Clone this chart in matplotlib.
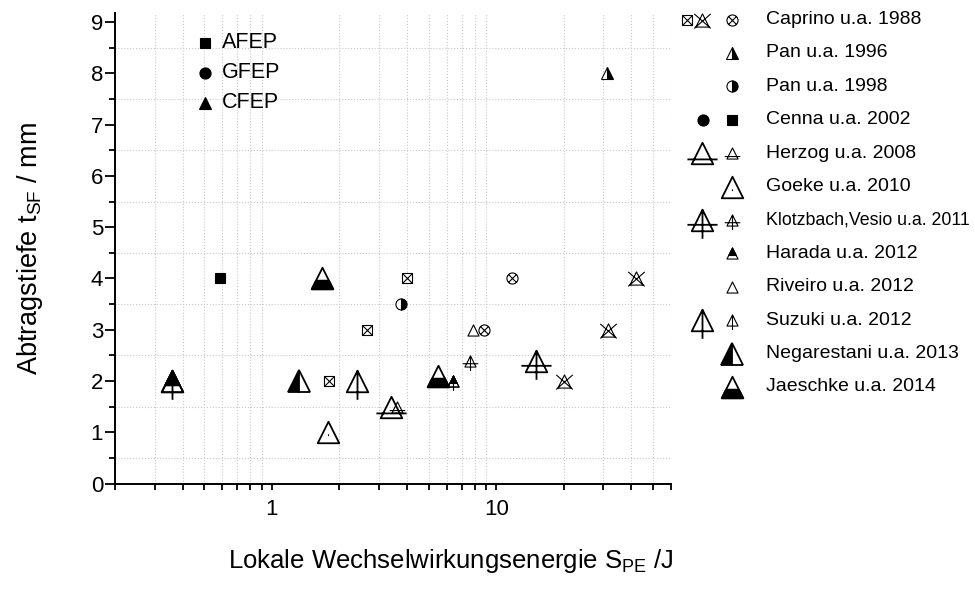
import numpy as np
import matplotlib.pyplot as plt
from matplotlib.path import Path
from matplotlib.ticker import FixedLocator, NullFormatter, FuncFormatter, LogLocator, MultipleLocator

plt.rcParams['font.family'] = ['Liberation Sans', 'DejaVu Sans']
plt.rcParams['mathtext.fontset'] = 'custom'
plt.rcParams['mathtext.rm'] = 'Liberation Sans'

# values: x = S_PE in J, y = t_SF in mm
caprino_box_x, caprino_box_y = [1.8, 2.65, 4.0], [2, 3, 4]
caprino_trix_x, caprino_trix_y = [20, 31.5, 42], [2, 3, 4]
caprino_circ_x, caprino_circ_y = [5.6, 8.8, 11.7], [2, 3, 4]
pan96_x, pan96_y = [31], [8]
pan98_x, pan98_y = [3.75], [3.5]
cenna_x, cenna_y = [0.59], [4]
herzog_big_x, herzog_big_y = [3.4], [1.5]
herzog_small_x, herzog_small_y = [3.6], [1.5]
goeke_x, goeke_y = [1.77], [1]
klotz_big_x, klotz_big_y = [15], [2.4]
klotz_small_x, klotz_small_y = [7.6], [2.4]
harada_big_x, harada_big_y = [0.36], [2]
harada_small_x, harada_small_y = [6.4], [2]
riveiro_x, riveiro_y = [7.9], [3]
suzuki_big_x, suzuki_big_y = [0.36, 2.4], [2, 2]
suzuki_small_x, suzuki_small_y = [6.4], [2]
negar_x, negar_y = [1.32], [2]
jaeschke_x, jaeschke_y = [1.67, 5.5], [4, 2.1]

legend_labels = ['Caprino u.a. 1988', 'Pan u.a. 1996', 'Pan u.a. 1998', 'Cenna u.a. 2002',
                 'Herzog u.a. 2008', 'Goeke u.a. 2010', 'Klotzbach,Vesio u.a. 2011',
                 'Harada u.a. 2012', 'Riveiro u.a. 2012', 'Suzuki u.a. 2012',
                 'Negarestani u.a. 2013', 'Jaeschke u.a. 2014']
process_labels = ['AFEP', 'GFEP', 'CFEP']


def shape(poly=(), strokes=()):
    verts, codes = [], []
    if poly:
        verts += list(poly) + [poly[0]]
        codes += [Path.MOVETO] + [Path.LINETO] * (len(poly) - 1) + [Path.CLOSEPOLY]
    for a, b in strokes:
        verts += [a, b]
        codes += [Path.MOVETO, Path.LINETO]
    return Path(verts, codes)


TRI = [(0, 1), (-1, -1), (1, -1)]
SQ = [(-1, -1), (1, -1), (1, 1), (-1, 1)]
XX = [((-0.7, -0.7), (0.7, 0.7)), ((-0.7, 0.7), (0.7, -0.7))]

# each kind = list of layers (marker, face, fillstyle)
KINDS = {
    'sqx': [(shape(SQ, [((-1, -1), (1, 1)), ((-1, 1), (1, -1))]), 'white', 'full')],
    'trix': [(shape(TRI, [((-1.25, 1), (1.25, -1.2)), ((1.25, 1), (-1.25, -1.2))]), 'none', 'full')],
    'circx': [(Path.make_compound_path(Path.unit_circle(), shape(strokes=XX)), 'white', 'full')],
    'tri_right': [('^', 'black', 'right')],
    'circ_right': [('o', 'black', 'right')],
    'circle': [('o', 'black', 'full')],
    'square': [('s', 'black', 'full')],
    'tri': [('^', 'black', 'full')],
    'herzog': [(shape(TRI, [((-1.4, -0.55), (1.4, -0.55))]), 'none', 'full')],
    'goeke': [(shape(TRI, [((-0.05, -0.25), (0.05, -0.25))]), 'white', 'full')],
    'klotz': [(shape(TRI, [((-1.4, -0.4), (1.4, -0.4)), ((0, 1), (0, -1.7))]), 'none', 'full')],
    'harada': [(shape(TRI), 'white', 'full'),
               (shape([(0, 1), (-0.68, -0.36), (0.68, -0.36)]), 'black', 'full')],
    'open_tri': [(shape(TRI), 'white', 'full')],
    'suzuki': [(shape(TRI, [((0, 1), (0, -1.7))]), 'none', 'full')],
    'negar': [('^', 'black', 'left')],
    'jaeschke': [(shape(TRI), 'white', 'full'),
                 (shape([(-0.6, -0.2), (0.6, -0.2), (1, -1), (-1, -1)]), 'black', 'full')],
}
BIG, SMALL = 15.5, 8


def draw(ax, xs, ys, kind, size, lw=None, z=3):
    if lw is None:
        lw = 1.3 if size > 12 else 0.8
    for m, face, fs in KINDS[kind]:
        ms = size * np.abs(m.vertices).max() if isinstance(m, Path) else size
        ax.plot(xs, ys, ls='none', marker=m, ms=ms, mfc=face, mec='black', mew=lw,
                fillstyle=fs, markerfacecoloralt='white', zorder=z, clip_on=False)


fig = plt.figure(figsize=(9.75, 5.89), dpi=100)
ax = fig.add_axes([115 / 975, 1 - 483.7 / 589, 556 / 975, 471 / 589])
ax.set_xscale('log')
ax.set_xlim(0.2, 60)
ax.set_ylim(0, 9.18)
ax.spines[['top', 'right']].set_visible(False)
ax.spines[['left', 'bottom']].set_linewidth(1.4)
ax.yaxis.set_major_locator(MultipleLocator(1))
ax.yaxis.set_minor_locator(MultipleLocator(0.5))
ax.xaxis.set_major_locator(FixedLocator([1, 10]))
ax.xaxis.set_major_formatter(FuncFormatter(lambda v, p: f'{v:g}'))
ax.xaxis.set_minor_locator(LogLocator(base=10, subs=np.arange(2, 10), numticks=20))
ax.xaxis.set_minor_formatter(NullFormatter())
ax.grid(which='minor', ls=':', lw=0.8, color='#c8c8c8')
ax.set_axisbelow(True)
ax.tick_params(which='both', direction='out', width=1.3, labelsize=16)
ax.tick_params(axis='y', which='major', length=7, pad=1.5)
ax.tick_params(axis='y', which='minor', length=4)
ax.tick_params(axis='x', which='both', length=4, pad=7)

ax.set_ylabel(r'Abtragstiefe t$_\mathregular{SF}$ / mm', fontsize=19.5)
ax.yaxis.set_label_coords(-0.125, 0.5)
ax.set_xlabel(r'Lokale Wechselwirkungsenergie S$_\mathregular{PE}$ /J', fontsize=18.5, va='top')
ax.xaxis.set_label_coords(0.604, -0.135)

# data points
draw(ax, caprino_box_x, caprino_box_y, 'sqx', 7.2)
draw(ax, caprino_trix_x, caprino_trix_y, 'trix', 9.5)
draw(ax, caprino_circ_x, caprino_circ_y, 'circx', 8)
draw(ax, pan96_x, pan96_y, 'tri_right', SMALL)
draw(ax, pan98_x, pan98_y, 'circ_right', SMALL)
draw(ax, cenna_x, cenna_y, 'square', 7)
draw(ax, herzog_big_x, herzog_big_y, 'herzog', BIG)
draw(ax, herzog_small_x, herzog_small_y, 'herzog', SMALL)
draw(ax, goeke_x, goeke_y, 'goeke', BIG)
draw(ax, klotz_big_x, klotz_big_y, 'klotz', BIG)
draw(ax, klotz_small_x, klotz_small_y, 'klotz', SMALL)
draw(ax, harada_big_x, harada_big_y, 'harada', BIG)
draw(ax, harada_small_x, harada_small_y, 'harada', SMALL)
draw(ax, riveiro_x, riveiro_y, 'open_tri', SMALL)
draw(ax, suzuki_big_x, suzuki_big_y, 'suzuki', BIG, z=4)
draw(ax, suzuki_small_x, suzuki_small_y, 'suzuki', SMALL, z=4)
draw(ax, negar_x, negar_y, 'negar', BIG)
draw(ax, jaeschke_x, jaeschke_y, 'jaeschke', BIG)

# legends, laid out in pixel coordinates on an overlay axes
lax = fig.add_axes([0, 0, 1, 1])
lax.set_xlim(0, 975)
lax.set_ylim(589, 0)
lax.axis('off')

row_y = 19.5 + 33.4 * np.arange(len(legend_labels))
row_keys = [
    [('sqx', 687, 7.2), ('trix', 702, 9.5), ('circx', 732, 8)],
    [('tri_right', 732, SMALL)],
    [('circ_right', 732, SMALL)],
    [('circle', 703, 8), ('square', 732, 7)],
    [('herzog', 702, BIG), ('herzog', 732, SMALL)],
    [('goeke', 732, BIG)],
    [('klotz', 702, BIG), ('klotz', 732, SMALL)],
    [('harada', 732, SMALL)],
    [('open_tri', 732, SMALL)],
    [('suzuki', 702, BIG), ('suzuki', 732, SMALL)],
    [('negar', 732, BIG)],
    [('jaeschke', 732, BIG)],
]
for y, label, keys in zip(row_y, legend_labels, row_keys):
    for kind, kx, size in keys:
        draw(lax, [kx], [y], kind, size)
    fs = 12.8 if label.startswith('Klotzbach') else 14
    lax.text(766, y, label, fontsize=fs, va='center', ha='left')

proc_y = [43, 73, 103]
for y, label, kind, size in zip(proc_y, process_labels, ['square', 'circle', 'tri'], [7, 8, 9]):
    draw(lax, [205], [y], kind, size)
    lax.text(222, y, label, fontsize=15.5, va='center', ha='left')

fig.savefig('out.png', dpi=100)
